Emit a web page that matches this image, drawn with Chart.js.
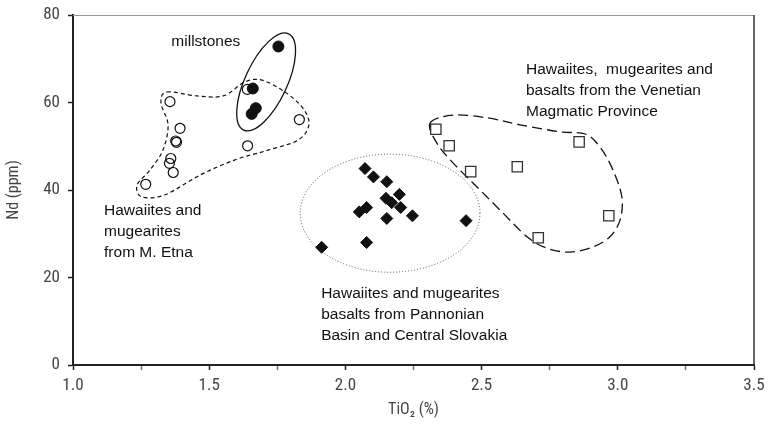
<!DOCTYPE html>
<html><head><meta charset="utf-8">
<script src="https://cdn.jsdelivr.net/npm/chart.js@4.4.1/dist/chart.umd.min.js"></script>
<style>html,body{margin:0;padding:0;background:#fff}#wrap{width:769px;height:432px;position:relative}</style>
</head><body><div id="wrap"><canvas id="c"></canvas></div>
<script>
// ---- data (TiO2 %, Nd ppm) ----
const etnaTiO2 = [1.640, 1.356, 1.393, 1.377, 1.380, 1.831, 1.641, 1.359, 1.354, 1.368, 1.267];
const etnaNd   = [63.0, 60.2, 54.1, 51.2, 50.9, 56.1, 50.1, 47.2, 46.1, 44.0, 41.3];
const millTiO2 = [1.754, 1.660, 1.671, 1.656];
const millNd   = [72.8, 63.2, 58.7, 57.4];
const pannTiO2 = [2.072, 2.103, 2.152, 2.198, 2.149, 2.170, 2.203, 2.078, 2.051, 2.246, 2.152, 2.443, 2.078, 1.913];
const pannNd   = [44.9, 43.0, 41.9, 39.0, 38.1, 37.1, 36.0, 36.0, 35.0, 34.1, 33.5, 33.0, 28.0, 26.9];
const veneTiO2 = [2.332, 2.381, 2.460, 2.631, 2.858, 2.967, 2.708];
const veneNd   = [53.9, 50.1, 44.2, 45.3, 51.0, 34.1, 29.1];

const xTicks = [1.0, 1.5, 2.0, 2.5, 3.0, 3.5];
const yTicks = [0, 20, 40, 60, 80];

// field outlines (data coordinates)
const etnaFieldTiO2 = [1.345, 1.455, 1.551, 1.631, 1.694, 1.778, 1.844, 1.866, 1.826, 1.716, 1.595, 1.466, 1.338, 1.253, 1.235, 1.283, 1.330, 1.349, 1.323];
const etnaFieldNd   = [62.4, 61.5, 61.5, 64.7, 65.1, 62.4, 58.7, 54.9, 51.4, 49.1, 46.9, 43.4, 38.9, 38.4, 41.1, 44.6, 49.1, 54.9, 59.9];
const veneFieldTiO2 = [2.311, 2.395, 2.520, 2.641, 2.788, 2.880, 2.935, 2.982, 3.015, 3.008, 2.971, 2.909, 2.824, 2.740, 2.667, 2.568, 2.483, 2.395, 2.336];
const veneFieldNd   = [55.3, 57.1, 56.5, 54.9, 53.3, 52.8, 49.8, 44.6, 38.4, 33.1, 29.3, 27.0, 25.8, 26.7, 29.3, 35.4, 40.7, 46.2, 50.7];
const millEllipse = {tio2: 1.709, nd: 64.7, semiMajorNd: 11.0, semiMinorTiO2: 0.077, tiltDeg: 25};
const pannEllipse = {tio2: 2.164, nd: 34.7, rTiO2: 0.330, rNd: 13.5};

const labels = [
  {lines: ['millstones'], tio2: 1.361, nd: 72.9},
  {lines: ['Hawaiites and', 'mugearites', 'from M. Etna'], tio2: 1.114, nd: 34.3},
  {lines: ['Hawaiites and mugearites', 'basalts from Pannonian', 'Basin and Central Slovakia'], tio2: 1.911, nd: 15.3},
  {lines: ['Hawaiites,  mugearites and', 'basalts from the Venetian', 'Magmatic Province'], tio2: 2.663, nd: 66.5}
];

const zip = (xs, ys) => xs.map((x, i) => ({x, y: ys[i]}));

const FONT = '"Liberation Sans", Arial, sans-serif';
const TICKFONT = '"Liberation Sans Narrow", "Roboto Condensed", "DejaVu Sans Condensed", "Liberation Sans", sans-serif';

const overlay = {
  id: 'overlay',
  beforeDatasetsDraw(chart) {
    const {ctx, scales: {x, y}} = chart;
    const px = v => x.getPixelForValue(v), py = v => y.getPixelForValue(v);
    function closedSpline(xs, ys, dash, color, lw) {
      const P = xs.map((v, i) => [px(v), py(ys[i])]);
      const n = P.length;
      ctx.save();
      ctx.beginPath();
      ctx.moveTo(P[0][0], P[0][1]);
      for (let i = 0; i < n; i++) {
        const p0 = P[(i - 1 + n) % n], p1 = P[i], p2 = P[(i + 1) % n], p3 = P[(i + 2) % n];
        ctx.bezierCurveTo(p1[0] + (p2[0] - p0[0]) / 6, p1[1] + (p2[1] - p0[1]) / 6,
                          p2[0] - (p3[0] - p1[0]) / 6, p2[1] - (p3[1] - p1[1]) / 6, p2[0], p2[1]);
      }
      ctx.closePath();
      ctx.setLineDash(dash); ctx.strokeStyle = color; ctx.lineWidth = lw; ctx.stroke();
      ctx.restore();
    }
    closedSpline(etnaFieldTiO2, etnaFieldNd, [4, 3], '#111', 1.2);
    closedSpline(veneFieldTiO2, veneFieldNd, [10, 5], '#111', 1.3);
    // millstones ellipse
    ctx.save();
    ctx.beginPath();
    const mcx = px(millEllipse.tio2), mcy = py(millEllipse.nd);
    const ry = Math.abs(py(millEllipse.nd + millEllipse.semiMajorNd) - mcy) / Math.cos(millEllipse.tiltDeg * Math.PI / 180);
    const rx = Math.abs(px(millEllipse.tio2 + millEllipse.semiMinorTiO2) - mcx);
    ctx.ellipse(mcx, mcy, rx, ry, millEllipse.tiltDeg * Math.PI / 180, 0, Math.PI * 2);
    ctx.strokeStyle = '#111'; ctx.lineWidth = 1.3; ctx.stroke();
    ctx.restore();
    // pannonian dotted ellipse
    ctx.save();
    ctx.beginPath();
    const pcx = px(pannEllipse.tio2), pcy = py(pannEllipse.nd);
    ctx.ellipse(pcx, pcy, Math.abs(px(pannEllipse.tio2 + pannEllipse.rTiO2) - pcx), Math.abs(py(pannEllipse.nd + pannEllipse.rNd) - pcy), 0, 0, Math.PI * 2);
    ctx.setLineDash([1, 2]); ctx.strokeStyle = '#555'; ctx.lineWidth = 1; ctx.stroke();
    ctx.restore();
    // labels
    ctx.save();
    ctx.fillStyle = '#111';
    ctx.font = '15.5px ' + FONT;
    ctx.textBaseline = 'alphabetic';
    ctx.textAlign = 'left';
    labels.forEach(l => {
      l.lines.forEach((t, i) => ctx.fillText(t, px(l.tio2), py(l.nd) + i * 21));
    });
    ctx.restore();
  },
  afterDraw(chart) {
    const {ctx, chartArea: a} = chart;
    ctx.save();
    ctx.strokeStyle = '#999'; ctx.lineWidth = 1;
    ctx.beginPath(); ctx.moveTo(a.left, a.top + 0.5); ctx.lineTo(a.right, a.top + 0.5); ctx.stroke();
    ctx.strokeStyle = '#333'; ctx.lineWidth = 1.5;
    ctx.beginPath(); ctx.moveTo(a.right, a.top); ctx.lineTo(a.right, a.bottom); ctx.stroke();
    ctx.restore();
  }
};

new Chart(document.getElementById('c'), {
  type: 'scatter',
  data: {
    datasets: [
      {label: 'Etna', data: zip(etnaTiO2, etnaNd), pointStyle: 'circle', pointRadius: 5, borderColor: '#111', borderWidth: 1.2, backgroundColor: 'rgba(255,255,255,0)'},
      {label: 'Millstones', data: zip(millTiO2, millNd), pointStyle: 'circle', pointRadius: 5.5, borderColor: '#111', borderWidth: 1, backgroundColor: '#111'},
      {label: 'Pannonian', data: zip(pannTiO2, pannNd), pointStyle: 'rectRot', pointRadius: 6, borderColor: '#111', borderWidth: 1, backgroundColor: '#111'},
      {label: 'Venetian', data: zip(veneTiO2, veneNd), pointStyle: 'rect', pointRadius: 7.3, borderColor: '#333', borderWidth: 1.3, backgroundColor: 'rgba(255,255,255,0)'}
    ]
  },
  options: {
    responsive: true,
    maintainAspectRatio: false,
    animation: false,
    layout: {padding: {top: 15, right: 15, left: 0, bottom: 0}},
    plugins: {legend: {display: false}, tooltip: {enabled: false}},
    scales: {
      x: {
        type: 'linear', min: 1, max: 3.5,
        afterBuildTicks: s => { s.ticks = [1, 1.25, 1.5, 1.75, 2, 2.25, 2.5, 2.75, 3, 3.25, 3.5].map(v => ({value: v})); },
        afterFit: s => { s.height = 67; s.paddingLeft = 0; s.paddingRight = 0; },
        ticks: {
          autoSkip: false, maxRotation: 0, color: '#444', padding: 6,
          font: {family: TICKFONT, size: 17},
          callback: v => xTicks.includes(v) ? v.toFixed(1) : ''
        },
        grid: {drawOnChartArea: false, drawTicks: true, tickLength: 5, tickWidth: 1.5,
               tickColor: c => (c.tick && xTicks.includes(c.tick.value)) ? '#222' : '#777'},
        border: {color: '#222', width: 2},
        title: {display: true, text: 'TiO₂ (%)', color: '#444', font: {family: TICKFONT, size: 16}, padding: {top: 4, bottom: 12}}
      },
      y: {
        min: 0, max: 80,
        afterBuildTicks: s => { s.ticks = yTicks.map(v => ({value: v})); },
        afterFit: s => { s.width = 73; s.paddingTop = 0; s.paddingBottom = 0; },
        ticks: {color: '#444', padding: 8, font: {family: TICKFONT, size: 17}},
        grid: {drawOnChartArea: false, drawTicks: true, tickLength: 5, tickWidth: 1.5, tickColor: '#222'},
        border: {color: '#222', width: 2},
        title: {display: true, text: 'Nd (ppm)', color: '#444', font: {family: TICKFONT, size: 16}, padding: {top: 4, bottom: 4}}
      }
    }
  },
  plugins: [overlay]
});
</script>
</body></html>
